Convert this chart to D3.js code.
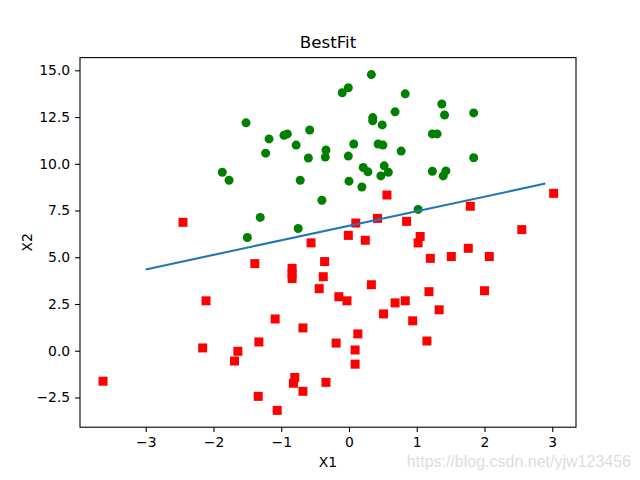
<!DOCTYPE html>
<html>
<head>
<meta charset="utf-8">
<script src="https://cdn.jsdelivr.net/npm/d3@7"></script>
<style>
  body { margin: 0; background: #fff; }
  text { font-family: "DejaVu Sans", sans-serif; fill: #000; }
  .domain { stroke: #000; stroke-width: 1.1px; }
  .tick line { stroke: #000; stroke-width: 1.1px; }
</style>
</head>
<body>
<svg id="chart" width="640" height="480"></svg>
<script>
// class 1 points (green circles)
var greenX = [0.33, -0.01, -0.10, 0.83, 0.68, 0.35, 0.35, 0.49, -1.52, -0.58,
  -0.91, -0.96, -1.18, -1.23, -0.78, -0.34, -0.35, -0.60, 0.07, -0.01,
  0.43, 0.50, 0.77, 0.21, 0.28, 0.52, 0.58, 0.47, -0.72, 0.00,
  0.19, -0.40, -1.31, -0.75, -1.50, -1.87, -1.77, 1.37, 1.41, 1.84,
  1.23, 1.30, 1.84, 1.23, 1.43, 1.39, 1.02];
var greenY = [14.77, 14.07, 13.80, 13.74, 12.78, 12.47, 12.30, 12.08, 12.19, 11.81,
  11.60, 11.52, 11.33, 10.57, 11.00, 10.74, 10.36, 10.31, 11.06, 10.41,
  11.06, 11.00, 10.68, 9.80, 9.57, 9.89, 9.55, 9.35, 9.12, 9.07,
  8.76, 8.05, 7.13, 6.54, 6.06, 9.55, 9.12, 13.20, 12.61, 12.72,
  11.60, 11.60, 10.32, 9.60, 9.62, 9.35, 7.56];

// class 0 points (red squares)
var redX = [0.56, 0.10, 0.42, 0.85, -0.01, 0.24, -0.56, 3.02, 1.79, 2.55,
  1.05, 1.02, 1.76, 1.20, 1.51, 2.07, 1.18, 2.00, 0.83, 1.33,
  0.94, 1.15, -1.39, -0.84, -0.84, -0.84, -0.36, -0.38, -0.44, 0.33,
  -0.15, -0.03, 0.68, 0.51, -1.09, -0.68, -1.33, -1.64, 0.13, -0.19,
  0.09, 0.09, -0.80, -0.82, -0.68, -0.34, -1.34, -1.06, -2.11, -2.16,
  -1.69, -3.63, -2.45];
var redY = [8.33, 6.83, 7.08, 6.92, 6.17, 5.91, 5.77, 8.42, 7.73, 6.48,
  6.11, 5.77, 5.48, 4.94, 5.04, 5.04, 3.16, 3.21, 2.67, 2.19,
  1.60, 0.52, 4.66, 4.41, 4.13, 3.86, 4.77, 3.96, 3.32, 3.53,
  2.89, 2.67, 2.56, 1.97, 1.70, 1.22, 0.47, -0.03, 0.90, 0.41,
  0.04, -0.72, -1.43, -1.74, -2.17, -1.69, -2.44, -3.19, 2.67, 0.15,
  -0.55, -1.63, 6.87];

// best fit line ends
var fitX = [-3.0, 2.9];
var fitY = [4.35, 8.94];

var xTicks = [-3, -2, -1, 0, 1, 2, 3];
var yTicks = [-2.5, 0, 2.5, 5, 7.5, 10, 12.5, 15];

// axes box, same spot matplotlib puts it
var axLeft = 80, axRight = 576, axTop = 57.6, axBottom = 427.2;

var svg = d3.select("#chart");

var x = d3.scaleLinear().domain([-3.97, 3.35]).range([axLeft, axRight]);
var y = d3.scaleLinear().domain([-4.09, 15.68]).range([axBottom, axTop]);

var reds = d3.range(redX.length).map(function(i) { return [redX[i], redY[i]]; });
var greens = d3.range(greenX.length).map(function(i) { return [greenX[i], greenY[i]]; });

// red squares
svg.append("g").selectAll("rect")
  .data(reds)
  .enter().append("rect")
  .attr("x", function(d) { return x(d[0]) - 4.5; })
  .attr("y", function(d) { return y(d[1]) - 4.5; })
  .attr("width", 9)
  .attr("height", 9)
  .style("fill", "#ff0000");

// green circles
svg.append("g").selectAll("circle")
  .data(greens)
  .enter().append("circle")
  .attr("cx", function(d) { return x(d[0]); })
  .attr("cy", function(d) { return y(d[1]); })
  .attr("r", 4.5)
  .style("fill", "#008000");

// fit line
var line = d3.line()
  .x(function(d) { return x(d); })
  .y(function(d, i) { return y(fitY[i]); });
svg.append("path")
  .attr("d", line(fitX))
  .style("fill", "none")
  .style("stroke", "#1f77b4")
  .style("stroke-width", 2.08);

// frame
svg.append("rect")
  .attr("x", axLeft).attr("y", axTop)
  .attr("width", axRight - axLeft).attr("height", axBottom - axTop)
  .style("fill", "none").style("stroke", "#000").style("stroke-width", 1.1);

var xAxis = svg.append("g")
  .attr("transform", "translate(0," + axBottom + ")")
  .call(d3.axisBottom(x).tickValues(xTicks).tickSize(4.9).tickPadding(4.9)
    .tickFormat(function(d) { return d < 0 ? "\u2212" + Math.abs(d) : d; }));
xAxis.selectAll("text").style("font-size", "13.9px").style("font-family", "DejaVu Sans");
xAxis.select(".domain").remove();

var yAxis = svg.append("g")
  .attr("transform", "translate(" + axLeft + ",0)")
  .call(d3.axisLeft(y).tickValues(yTicks).tickSize(4.9).tickPadding(4.9)
    .tickFormat(function(d) { var s = Math.abs(d).toFixed(1); return d < 0 ? "\u2212" + s : s; }));
yAxis.selectAll("text").style("font-size", "13.9px").style("font-family", "DejaVu Sans");
yAxis.select(".domain").remove();

svg.append("text")
  .attr("x", (axLeft + axRight) / 2).attr("y", 48)
  .attr("text-anchor", "middle")
  .style("font-size", "16.7px")
  .text("BestFit");

svg.append("text")
  .attr("x", (axLeft + axRight) / 2).attr("y", 467)
  .attr("text-anchor", "middle")
  .style("font-size", "13.9px")
  .text("X1");

svg.append("text")
  .attr("transform", "translate(32," + (axTop + axBottom) / 2 + ") rotate(-90)")
  .attr("text-anchor", "middle")
  .style("font-size", "13.9px")
  .text("X2");

// watermark
svg.append("text")
  .attr("x", 631).attr("y", 467)
  .attr("text-anchor", "end")
  .style("font-family", "Liberation Sans, Arial, sans-serif")
  .style("font-size", "16px")
  .style("fill", "#dddddd")
  .text("https://blog.csdn.net/yjw123456");
</script>
</body>
</html>
